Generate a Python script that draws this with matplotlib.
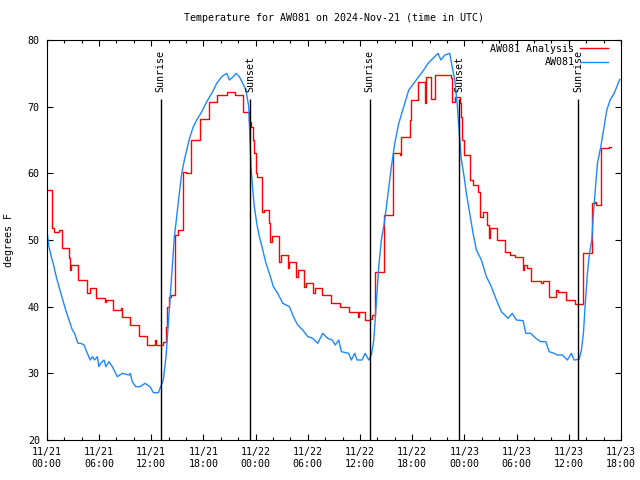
import matplotlib
matplotlib.use('Agg')
import matplotlib.pyplot as plt
import matplotlib.dates as mdates
import pandas as pd

## hours since 2024-11-21 00:00 UTC
obs_hours = [0.07, 0.26, 0.53, 0.84, 1.0, 1.15, 1.41, 1.80, 2.18, 2.56, 2.95, 3.2, 3.33, 3.6, 3.91,
             4.29, 4.67, 5.0, 5.24, 5.5, 5.82, 6.0, 6.2, 6.59, 6.8, 7.16, 7.54, 8.11, 8.69, 9.46, 9.6,
             9.84, 10.23, 10.72, 11.3, 11.87, 12.26, 12.83, 13.1, 13.4, 13.71, 13.98, 14.25, 14.48,
             14.67, 14.94, 15.24, 15.52, 15.82, 16.09, 16.47, 16.85, 17.24, 17.82, 18.39, 18.97,
             19.54, 20.11, 20.69, 21.0, 21.45, 21.76, 22.14, 22.53, 22.9, 23.22, 23.37, 23.48,
             23.68, 23.86, 24.14, 24.44, 24.83, 25.2, 25.59, 26.05, 26.55, 27.13, 27.9, 28.35,
             28.85, 29.43, 30.0, 30.57, 31.15, 31.72, 32.3, 32.8, 33.17, 33.56, 33.86, 34.71,
             35.01, 35.4, 35.67, 36.24, 36.6, 37.01, 37.31, 37.59, 37.85, 38.16, 38.46, 38.85,
             39.23, 39.61, 40.0, 40.46, 41.03, 41.61, 42.18, 42.76, 43.33, 43.83, 44.4, 44.97,
             45.3, 45.75, 46.32, 46.59, 46.9, 47.2, 47.47, 47.66, 47.97, 48.23, 48.62, 49.0,
             49.38, 49.95, 50.53, 51.1, 51.68, 52.25, 53.02, 53.5, 53.98, 54.75, 55.06, 55.63,
             56.21, 56.78, 57.36, 57.74, 58.31, 58.69, 59.26, 59.84, 60.3, 60.61, 61.18, 61.45,
             61.68, 61.87, 62.14, 62.33, 62.64, 62.83, 63.1, 63.29, 63.68, 64.06, 64.37, 64.75,
             65.21, 65.86]
obs_temp = [51.0, 49.0, 47.5, 46.0, 45.0, 44.25, 43.0, 41.25, 39.5, 38.0, 36.5, 36.0, 35.5, 34.5,
            34.5, 34.25, 33.0, 32.0, 32.5, 32.0, 32.5, 31.0, 31.5, 32.0, 31.0, 31.75, 31.0, 29.5,
            30.0, 29.75, 30.0, 28.75, 28.0, 28.0, 28.5, 28.0, 27.1, 27.1, 28.0, 29.0, 32.5, 37.5,
            42.5, 47.0, 50.5, 53.5, 57.0, 60.0, 62.0, 63.5, 65.5, 67.0, 68.0, 69.25, 70.75, 72.0,
            73.5, 74.5, 75.0, 74.0, 74.5, 75.0, 74.5, 73.5, 72.5, 70.0, 65.0, 61.0, 57.5, 55.0,
            52.5, 50.5, 48.5, 46.5, 45.0, 43.0, 42.0, 40.5, 40.0, 38.5, 37.25, 36.5, 35.5, 35.25,
            34.5, 36.0, 35.25, 35.0, 34.25, 35.0, 33.25, 33.0, 32.0, 33.0, 32.0, 32.0, 33.0,
            32.0, 32.75, 35.0, 40.0, 46.0, 50.0, 53.0, 57.0, 61.0, 64.5, 67.5, 70.0, 72.5, 73.5,
            74.5, 75.5, 76.5, 77.25, 78.0, 77.0, 77.75, 78.0, 76.0, 74.0, 70.0, 65.0, 62.0, 59.5,
            57.0, 54.0, 51.0, 48.5, 47.0, 44.5, 43.0, 41.0, 39.25, 38.25, 39.0, 38.0, 37.9, 36.0,
            36.0, 35.25, 34.75, 34.75, 33.25, 33.0, 32.75, 32.75, 32.0, 33.0, 32.0, 32.1, 33.5,
            36.0, 40.0, 45.0, 47.5, 50.0, 54.0, 58.5, 61.5, 64.0, 67.0, 69.5, 71.0, 72.0, 74.1]

ana_hours = [0.0, 0.65, 0.85, 1.4, 1.72, 2.56, 2.68, 2.83, 3.6, 4.6, 4.98, 5.63, 6.67, 6.78, 7.66,
             8.57, 8.69, 9.57, 10.61, 11.57, 12.45, 12.6, 13.4, 13.68, 13.87, 14.1, 14.3, 14.75,
             15.13, 15.63, 16.0, 16.55, 17.62, 18.66, 19.61, 20.76, 21.64, 22.6, 23.22, 23.48,
             23.68, 23.86, 24.06, 24.2, 24.71, 25.0, 25.59, 25.7, 25.85, 26.74, 26.95, 27.7, 27.9,
             28.66, 28.9, 29.61, 29.8, 30.64, 30.8, 31.64, 32.68, 33.75, 34.71, 35.78, 35.9, 36.62,
             37.2, 37.39, 37.7, 37.77, 38.74, 39.77, 40.64, 40.76, 41.72, 41.84, 42.68, 43.45,
             43.6, 44.13, 44.67, 45.55, 46.5, 46.62, 46.9, 47.47, 47.66, 47.77, 47.93, 48.62, 49.0,
             49.57, 49.77, 50.15, 50.65, 50.84, 50.95, 51.79, 52.71, 53.21, 53.79, 54.75, 54.9,
             55.25, 55.71, 56.78, 57.08, 57.74, 58.5, 58.77, 59.66, 60.69, 61.68, 62.72, 63.02,
             63.18, 63.75, 64.64, 64.87]
ana_temp = [57.5, 51.75, 51.25, 51.5, 48.85, 47.25, 45.5, 46.25, 44.0, 42.0, 42.75, 41.25, 40.75,
            41.0, 39.5, 39.75, 38.5, 37.25, 35.6, 34.25, 35.0, 34.25, 34.75, 37.0, 40.0, 41.5,
            41.75, 50.75, 51.5, 60.25, 60.0, 65.0, 68.1, 70.75, 71.75, 72.25, 71.75, 69.25, 67.75,
            67.0, 65.0, 63.0, 60.0, 59.5, 54.25, 54.5, 52.5, 49.75, 50.6, 46.75, 47.75, 45.75,
            46.75, 44.5, 45.5, 43.0, 43.5, 42.0, 42.75, 41.75, 40.5, 40.0, 39.25, 38.5, 39.25,
            38.0, 38.1, 38.75, 42.0, 45.25, 53.75, 63.0, 62.75, 65.5, 68.0, 71.0, 73.75, 70.5,
            74.5, 71.1, 74.75, 74.75, 74.25, 70.75, 71.5, 70.5, 68.5, 65.0, 62.75, 59.0, 58.25,
            57.25, 53.5, 54.25, 52.25, 50.25, 51.75, 50.0, 48.25, 47.75, 47.5, 45.5, 46.25, 45.75,
            43.9, 43.5, 43.9, 41.4, 42.5, 42.15, 41.0, 40.4, 48.0, 55.5, 55.75, 55.25, 63.75,
            64.0, 64.0]

sun_hours = [13.1, 23.4, 37.1, 47.4, 61.1]
sun_labels = ['Sunrise', 'Sunset', 'Sunrise', 'Sunset', 'Sunrise']

start = pd.Timestamp('2024-11-21 00:00')
def to_time(h):
    return [start + pd.Timedelta(hours=x) for x in h]

plt.rcParams['font.family'] = 'DejaVu Sans Mono'
fs = 7.2

fig = plt.figure(figsize=(6.4, 4.8), dpi=100)
ax = fig.add_axes([46.7/640, 40/480, (621-46.7)/640, 400/480])

ax.step(to_time(ana_hours), ana_temp, where='post', color='#ff0000', lw=1.0, label='AW081 Analysis')
ax.plot(to_time(obs_hours), obs_temp, color='#1e88ff', lw=1.0, label='AW081')

ax.vlines(to_time(sun_hours), 20, 71.1, color='black', lw=1.0)
for t, lab in zip(to_time(sun_hours), sun_labels):
    ax.text(t, 72.2, lab, rotation=90, ha='center', va='bottom', fontsize=fs)

ax.set_xlim(start, start + pd.Timedelta(hours=66))
ax.set_ylim(20, 80)
ax.set_yticks([20, 30, 40, 50, 60, 70, 80])
ax.xaxis.set_major_locator(mdates.HourLocator(byhour=[0, 6, 12, 18]))
ax.xaxis.set_minor_locator(mdates.HourLocator(interval=2))
ax.xaxis.set_major_formatter(mdates.DateFormatter('%m/%d\n%H:%M'))

ax.tick_params(which='both', direction='in', top=True, right=True, labelsize=fs, width=0.8)
ax.tick_params(which='major', length=4.5, pad=5)
ax.tick_params(which='minor', length=2.5)
for s in ax.spines.values():
    s.set_linewidth(0.8)

ax.set_title('Temperature for AW081 on 2024-Nov-21 (time in UTC)', fontsize=fs, pad=14)
ax.set_ylabel('degrees F', fontsize=fs, labelpad=10)

ax.legend(loc='upper right', bbox_to_anchor=(0.985, 1.0), frameon=False, markerfirst=False,
          fontsize=fs, handlelength=2.8, handletextpad=0.6, labelspacing=0.35,
          borderaxespad=0.2, borderpad=0.2)

fig.savefig('out.png', dpi=100)
